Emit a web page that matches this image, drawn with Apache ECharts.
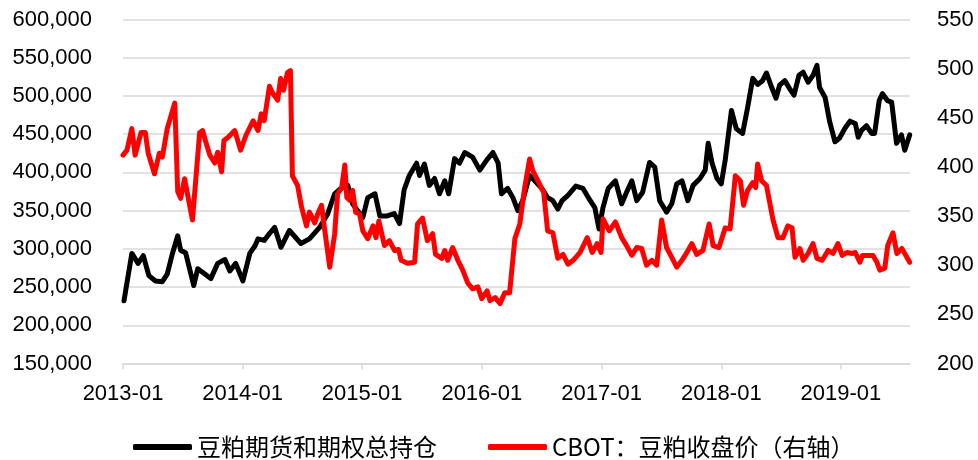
<!DOCTYPE html>
<html>
<head>
<meta charset="utf-8">
<style>
  html, body { margin: 0; padding: 0; background: #fff; }
  #mychart { width: 978px; height: 460px; }
</style>
<script src="https://cdn.jsdelivr.net/npm/echarts@6/dist/echarts.min.js"></script>
</head>
<body>
<div id="mychart"></div>
<script>
// 豆粕期货和期权总持仓（左轴）
const holdDates = [
  '2013-01-04','2013-01-28','2013-02-16','2013-03-04','2013-03-21','2013-04-10','2013-05-01','2013-05-16','2013-06-01','2013-06-17',
  '2013-06-26','2013-07-11','2013-08-05','2013-08-17','2013-09-08','2013-09-26','2013-10-17','2013-11-08','2013-11-23','2013-12-11',
  '2014-01-02','2014-01-23','2014-02-08','2014-02-17','2014-03-08','2014-03-24','2014-04-09','2014-04-28','2014-05-24','2014-06-28',
  '2014-07-24','2014-08-24','2014-09-18','2014-10-09','2014-10-28','2014-11-18','2014-12-03','2014-12-18',
  '2015-01-03','2015-01-18','2015-02-09','2015-02-24','2015-03-18','2015-04-09','2015-04-25','2015-05-09','2015-05-25','2015-06-16',
  '2015-06-25','2015-07-10','2015-07-25','2015-08-10','2015-08-25','2015-09-10','2015-09-22','2015-10-10','2015-10-25','2015-11-10',
  '2015-12-04','2015-12-26',
  '2016-01-16','2016-02-04','2016-02-20','2016-03-01','2016-03-20','2016-04-05','2016-04-20','2016-05-05','2016-05-26','2016-06-11',
  '2016-07-02','2016-07-20','2016-08-05','2016-08-20','2016-09-02','2016-09-20','2016-10-14','2016-11-05','2016-11-27','2016-12-11',
  '2016-12-24',
  '2017-01-05','2017-01-21','2017-02-12','2017-03-03','2017-03-18','2017-04-03','2017-04-18','2017-05-06','2017-05-27','2017-06-12',
  '2017-06-27','2017-07-18','2017-08-03','2017-08-18','2017-09-03','2017-09-21','2017-10-07','2017-10-28','2017-11-13','2017-11-22',
  '2017-12-04','2017-12-19',
  '2018-01-01','2018-01-13','2018-02-01','2018-02-16','2018-03-07','2018-03-22','2018-04-07','2018-04-22','2018-05-07','2018-05-19',
  '2018-06-04','2018-06-17','2018-06-28','2018-07-14','2018-07-28','2018-08-11','2018-08-26','2018-09-08','2018-09-23','2018-10-08',
  '2018-10-20','2018-10-28','2018-11-14','2018-11-28','2018-12-14','2018-12-28',
  '2019-01-14','2019-01-29','2019-02-14','2019-02-23','2019-03-05','2019-03-20','2019-04-05','2019-04-14','2019-04-28','2019-05-08',
  '2019-05-23','2019-06-05','2019-06-20','2019-07-05','2019-07-15','2019-07-30'
];
const holdValues = [
  232000,294000,281000,291000,265000,258000,257000,267000,294000,317000,
  298000,295000,252000,274000,267000,261000,281000,286000,271000,281000,
  258000,294000,304000,313000,311000,320000,328000,302000,324000,307000,
  313000,328000,346000,372000,379000,383000,359000,350000,
  341000,367000,372000,343000,343000,346000,333000,377000,396000,412000,
  396000,411000,383000,392000,372000,389000,372000,418000,412000,426000,
  420000,403000,
  416000,426000,412000,372000,379000,367000,350000,363000,396000,389000,
  379000,367000,363000,352000,363000,370000,382000,379000,363000,354000,
  326000,
  354000,379000,389000,359000,374000,389000,363000,374000,413000,407000,
  363000,348000,359000,385000,389000,363000,383000,392000,403000,438000,
  412000,392000,
  385000,416000,481000,457000,451000,484000,523000,515000,520000,530000,
  511000,497000,514000,520000,510000,501000,527000,531000,518000,527000,
  540000,511000,498000,466000,440000,445000,
  458000,467000,464000,446000,455000,461000,451000,451000,494000,503000,
  494000,492000,438000,449000,429000,449000
];

// CBOT 豆粕收盘价（右轴）
const cbotDates = [
  '2013-01-01','2013-01-13','2013-01-28','2013-02-07','2013-02-25','2013-03-10','2013-03-19','2013-04-07','2013-04-22','2013-05-01',
  '2013-05-16','2013-06-08','2013-06-17','2013-06-26','2013-07-08','2013-08-01','2013-08-23','2013-09-01','2013-09-11','2013-09-23',
  '2013-10-08','2013-10-17','2013-10-29','2013-11-05','2013-11-17','2013-12-08','2013-12-26',
  '2014-01-11','2014-02-02','2014-02-17','2014-02-27','2014-03-08','2014-03-24','2014-04-03','2014-04-18','2014-04-27','2014-05-06',
  '2014-05-18','2014-05-27','2014-06-02','2014-06-18','2014-06-30','2014-07-15','2014-07-24','2014-08-09','2014-08-18','2014-08-30',
  '2014-09-09','2014-09-24','2014-10-09','2014-10-18','2014-10-30','2014-11-09','2014-11-15','2014-11-24','2014-12-03','2014-12-12',
  '2014-12-24',
  '2015-01-03','2015-01-18','2015-02-03','2015-02-12','2015-02-21','2015-03-10','2015-03-25','2015-04-10','2015-04-22','2015-04-30',
  '2015-05-19','2015-06-10','2015-06-19','2015-07-04','2015-07-19','2015-08-04','2015-08-13','2015-09-01','2015-09-10','2015-09-19',
  '2015-10-04','2015-10-20','2015-11-04','2015-11-19','2015-12-04','2015-12-20',
  '2016-01-01','2016-01-17','2016-01-26','2016-02-11','2016-02-26','2016-03-11','2016-03-26','2016-04-11','2016-04-26','2016-05-11',
  '2016-05-26','2016-06-05','2016-06-20','2016-07-08','2016-07-20','2016-08-05','2016-08-20','2016-09-05','2016-09-20','2016-10-06',
  '2016-10-27','2016-11-18','2016-12-03','2016-12-18','2016-12-30',
  '2017-01-05','2017-01-24','2017-02-12','2017-03-03','2017-03-18','2017-04-03','2017-04-18','2017-05-03','2017-05-18','2017-06-03',
  '2017-06-18','2017-07-03','2017-07-18','2017-08-03','2017-08-18','2017-09-03','2017-09-18','2017-10-03','2017-10-18','2017-11-06',
  '2017-11-25','2017-12-07','2017-12-25',
  '2018-01-13','2018-01-28','2018-02-13','2018-02-28','2018-03-10','2018-03-22','2018-04-07','2018-04-16','2018-04-22','2018-05-04',
  '2018-05-19','2018-06-08','2018-06-23','2018-07-08','2018-07-23','2018-08-05','2018-08-14','2018-08-29','2018-09-08','2018-09-23',
  '2018-10-08','2018-10-20','2018-11-05','2018-11-23','2018-12-08','2018-12-23',
  '2019-01-05','2019-01-20','2019-02-05','2019-02-14','2019-02-28','2019-03-08','2019-04-09','2019-04-21','2019-04-30','2019-05-15',
  '2019-05-24','2019-06-09','2019-06-21','2019-07-06','2019-07-15','2019-07-30'
];
const cbotValues = [
  412,417,439,412,435,435,414,393,414,410,
  439,465,375,368,388,346,435,437,425,412,
  404,415,395,427,430,437,417,
  432,447,437,454,447,482,475,468,490,478,
  496,498,391,381,359,340,354,343,352,361,
  335,298,332,373,378,402,369,366,376,354,
  352,
  335,327,340,328,345,320,325,315,316,305,
  302,303,342,348,325,332,311,307,315,305,
  318,305,295,282,276,278,
  266,274,264,267,261,272,272,327,342,379,
  408,396,386,374,335,333,307,311,301,305,
  313,328,313,322,313,
  347,335,344,328,320,310,318,317,300,305,
  300,346,318,308,298,305,313,322,311,315,
  342,320,318,
  338,337,391,386,361,376,384,379,403,386,
  381,346,328,328,340,338,308,317,305,312,
  322,307,305,315,312,322,
  310,313,312,313,303,310,310,303,295,297,
  320,333,312,317,312,303
];

// 横轴刻度（每年一月）
const yearTicks = ['2013-01-01','2014-01-01','2015-01-01','2016-01-01','2017-01-01','2018-01-01','2019-01-01'];
const axisStart = '2013-01-01';
const axisEnd = '2019-07-31';

const seriesNames = ['豆粕期货和期权总持仓', 'CBOT：豆粕收盘价（右轴）'];

// 日期转时间戳
function ts(d) {
  return Date.parse(d);
}

function zip(dates, values) {
  let out = [];
  for (let i = 0; i < dates.length; i++) {
    out.push([ts(dates[i]), values[i]]);
  }
  return out;
}

function createOption() {
  const gridColor = '#d9d9d9';
  const labelFont = { color: '#000', fontSize: 22, fontFamily: 'Liberation Sans, Arial, sans-serif' };
  const tickValues = yearTicks.map(ts);
  return {
    animation: false,
    backgroundColor: '#fff',
    grid: { left: 123, right: 68, top: 19.5, bottom: 96.5 },
    legend: {
      left: 133,
      top: 432,
      padding: 0,
      icon: 'roundRect',
      itemWidth: 59,
      itemHeight: 6,
      itemGap: 51,
      textStyle: { color: '#000', fontSize: 24, lineHeight: 30, fontFamily: 'Noto Sans CJK SC, sans-serif' },
      data: seriesNames
    },
    xAxis: {
      type: 'value',
      min: ts(axisStart),
      max: ts(axisEnd),
      splitLine: { show: false },
      axisLine: { show: true, lineStyle: { color: gridColor, width: 1.5 } },
      axisTick: {
        show: true,
        length: 6,
        customValues: tickValues,
        lineStyle: { color: gridColor, width: 1.5 }
      },
      axisLabel: Object.assign({
        margin: 19,
        customValues: tickValues,
        formatter: function (v) {
          return new Date(v).getUTCFullYear() + '-01';
        }
      }, labelFont)
    },
    yAxis: [{
      type: 'value',
      min: 150000,
      max: 600000,
      interval: 50000,
      axisLine: { show: false },
      axisTick: { show: false },
      splitLine: { show: true, lineStyle: { color: gridColor, width: 1.5 } },
      axisLabel: Object.assign({
        margin: 31,
        formatter: function (v) {
          return v.toLocaleString('en-US');
        }
      }, labelFont)
    }, {
      type: 'value',
      min: 200,
      max: 550,
      interval: 50,
      position: 'right',
      axisLine: { show: false },
      axisTick: { show: false },
      splitLine: { show: false },
      axisLabel: Object.assign({ margin: 27 }, labelFont)
    }],
    series: [{
      name: seriesNames[0],
      type: 'line',
      yAxisIndex: 0,
      symbol: 'none',
      color: '#000000',
      lineStyle: { width: 5, join: 'round', cap: 'round' },
      data: zip(holdDates, holdValues)
    }, {
      name: seriesNames[1],
      type: 'line',
      yAxisIndex: 1,
      symbol: 'none',
      color: '#ff0000',
      lineStyle: { width: 5, join: 'round', cap: 'round' },
      data: zip(cbotDates, cbotValues)
    }]
  };
}

const mychart = echarts.init(document.getElementById('mychart'));
mychart.setOption(createOption());
window.onresize = function () {
  mychart.resize();
};
</script>
</body>
</html>
